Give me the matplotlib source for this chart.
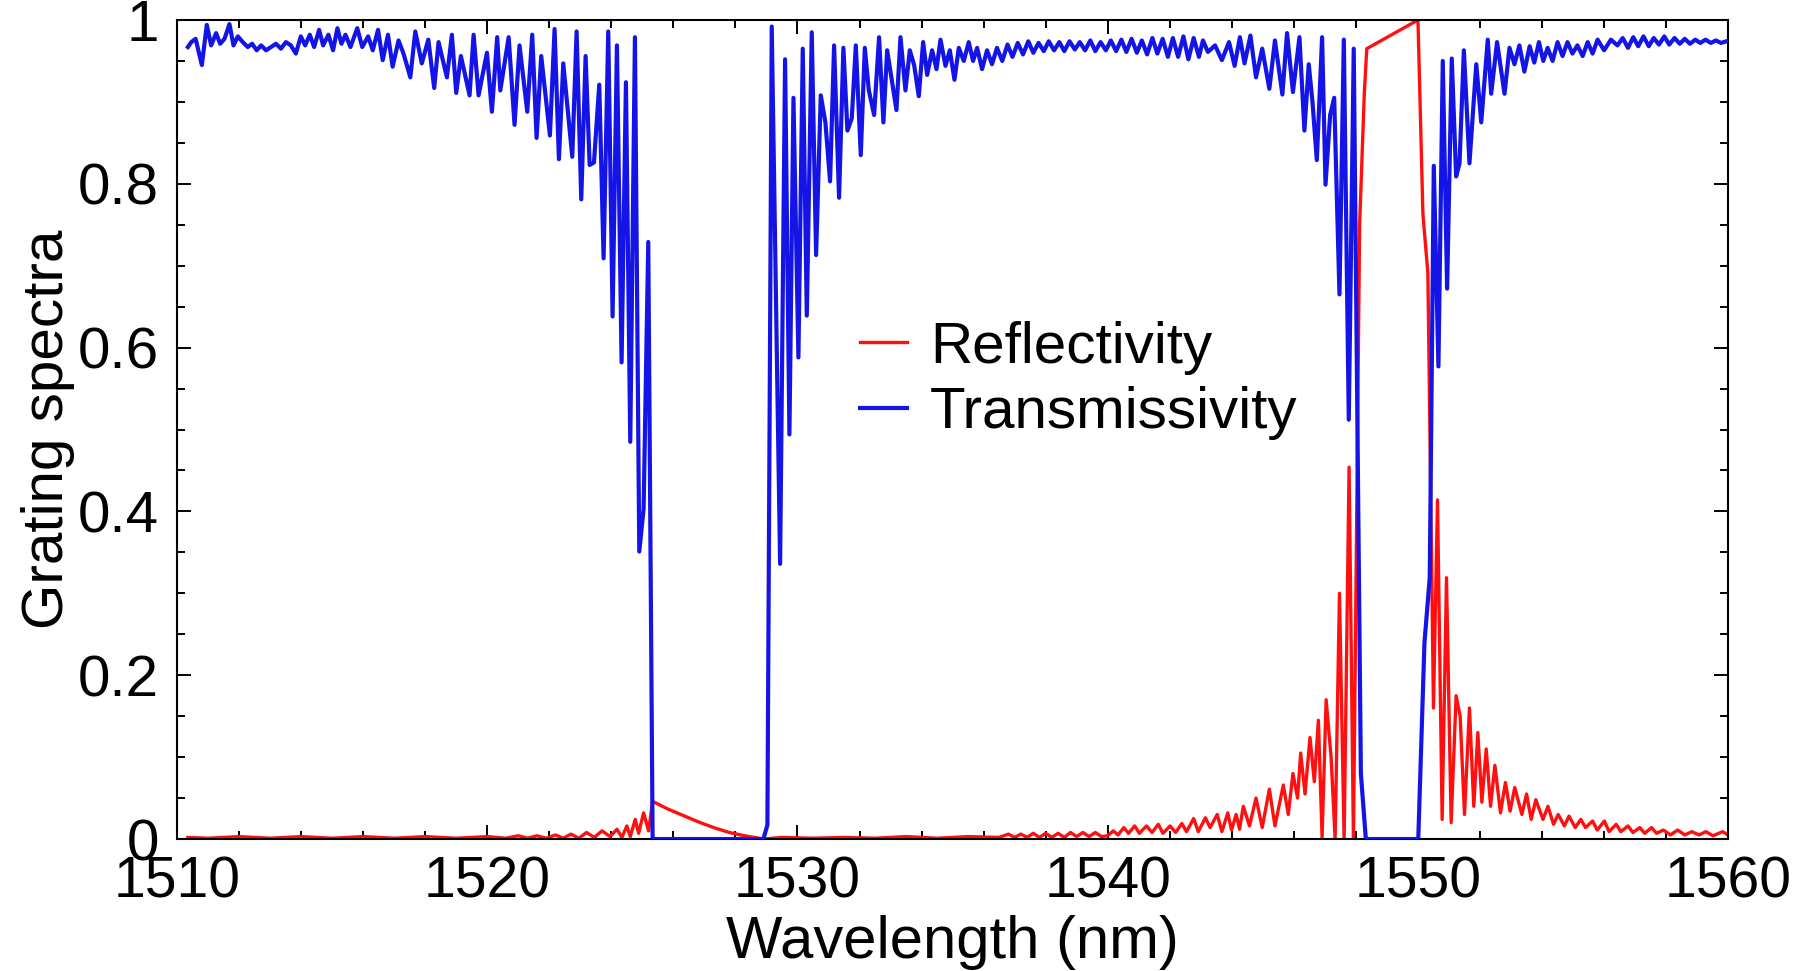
import matplotlib
matplotlib.use("Agg")
import matplotlib.pyplot as plt
from matplotlib.ticker import MultipleLocator, FuncFormatter

# ---------------- data ----------------
wl_T = [
    1510.35, 1510.46, 1510.60, 1510.80, 1510.96, 1511.10, 1511.26, 1511.39, 1511.53, 1511.69,
    1511.82, 1511.96, 1512.12, 1512.28, 1512.42, 1512.57, 1512.71, 1512.87, 1513.03, 1513.19,
    1513.35, 1513.51, 1513.67, 1513.83, 1513.99, 1514.13, 1514.28, 1514.42, 1514.58, 1514.71,
    1514.88, 1515.03, 1515.17, 1515.30, 1515.43, 1515.59, 1515.81, 1515.97, 1516.16, 1516.31,
    1516.48, 1516.63, 1516.80, 1516.95, 1517.14, 1517.30, 1517.52, 1517.68, 1517.89,
    1518.10, 1518.29, 1518.43, 1518.70, 1518.86, 1519.00, 1519.15, 1519.43, 1519.56, 1519.72,
    1519.99, 1520.15, 1520.32, 1520.42, 1520.69, 1520.88, 1521.04, 1521.29, 1521.45, 1521.59,
    1521.74, 1522.02, 1522.17, 1522.31, 1522.45, 1522.74, 1522.88, 1523.03, 1523.17, 1523.30,
    1523.44, 1523.61, 1523.75, 1523.90, 1524.04, 1524.18, 1524.33, 1524.47, 1524.61, 1524.76,
    1524.90, 1525.04, 1525.19, 1525.33,
    1528.90, 1529.03, 1529.17, 1529.44, 1529.60, 1529.74, 1529.87, 1530.03, 1530.17, 1530.30,
    1530.46, 1530.60, 1530.75, 1530.90, 1531.05, 1531.18, 1531.34, 1531.48, 1531.61, 1531.75,
    1531.88, 1532.04, 1532.17, 1532.30, 1532.47, 1532.63, 1532.77, 1532.89, 1533.19, 1533.32,
    1533.48, 1533.62, 1533.76, 1533.91, 1534.05, 1534.18, 1534.34, 1534.48, 1534.61, 1534.77,
    1534.91, 1535.06, 1535.20, 1535.36, 1535.52, 1535.66, 1535.79, 1535.95, 1536.11, 1536.27,
    1536.43, 1536.60, 1536.77, 1536.93, 1537.10, 1537.27,
    1537.44, 1537.60, 1537.77, 1537.94, 1538.10, 1538.27, 1538.44, 1538.60, 1538.77, 1538.94,
    1539.10, 1539.27, 1539.44, 1539.60, 1539.77, 1539.94, 1540.10, 1540.27, 1540.44, 1540.60,
    1540.77, 1540.94, 1541.10, 1541.27, 1541.44, 1541.60, 1541.77, 1541.94, 1542.10, 1542.27,
    1542.44, 1542.60, 1542.77, 1542.94,
    1543.07, 1543.23, 1543.46, 1543.68, 1543.91, 1544.09, 1544.26, 1544.41, 1544.60, 1544.78,
    1544.98, 1545.21, 1545.39, 1545.63, 1545.78, 1545.97, 1546.18, 1546.34, 1546.48, 1546.60,
    1546.74, 1546.91, 1547.02, 1547.17, 1547.30, 1547.47, 1547.61, 1547.77, 1547.93, 1548.16,
    1548.32, 1550.01, 1550.21, 1550.38, 1550.51, 1550.66, 1550.80, 1550.94, 1551.09, 1551.23,
    1551.34, 1551.48, 1551.66, 1551.88, 1552.04, 1552.25, 1552.36, 1552.55, 1552.79, 1552.95,
    1553.11, 1553.27, 1553.43, 1553.60, 1553.75, 1553.90, 1554.04, 1554.18, 1554.34, 1554.50,
    1554.66, 1554.82, 1554.98, 1555.14, 1555.31, 1555.47, 1555.63, 1555.79, 1556.00, 1556.22,
    1556.43, 1556.60, 1556.77, 1556.94, 1557.10, 1557.27, 1557.44, 1557.60, 1557.77, 1557.94,
    1558.10, 1558.27, 1558.44, 1558.60, 1558.77, 1558.94, 1559.10, 1559.27, 1559.44, 1559.60,
    1559.77, 1559.94,
]
T = [
    0.967, 0.973, 0.977, 0.945, 0.994, 0.969, 0.984, 0.971, 0.977, 0.995,
    0.969, 0.980, 0.973, 0.967, 0.971, 0.963, 0.969, 0.963, 0.967, 0.971,
    0.965, 0.973, 0.969, 0.959, 0.980, 0.969, 0.982, 0.967, 0.988, 0.969,
    0.982, 0.963, 0.990, 0.971, 0.982, 0.967, 0.990, 0.967, 0.980, 0.963,
    0.988, 0.951, 0.982, 0.943, 0.975, 0.959, 0.930, 0.986, 0.947,
    0.976, 0.917, 0.973, 0.930, 0.982, 0.911, 0.956, 0.908, 0.982, 0.908,
    0.960, 0.888, 0.979, 0.914, 0.979, 0.872, 0.969, 0.888, 0.982, 0.856,
    0.956, 0.859, 0.989, 0.830, 0.947, 0.833, 0.986, 0.781, 0.956, 0.823,
    0.826, 0.921, 0.709, 0.986, 0.638, 0.969, 0.582, 0.924, 0.485, 0.979,
    0.351, 0.403, 0.729, 0.000,
    0.000, 0.017, 0.992, 0.336, 0.952, 0.494, 0.905, 0.588, 0.965, 0.639,
    0.985, 0.713, 0.908, 0.875, 0.803, 0.969, 0.783, 0.966, 0.865, 0.880,
    0.969, 0.835, 0.966, 0.914, 0.884, 0.979, 0.875, 0.963, 0.890, 0.979,
    0.914, 0.963, 0.945, 0.907, 0.973, 0.933, 0.963, 0.940, 0.976, 0.944,
    0.963, 0.927, 0.966, 0.950, 0.973, 0.950, 0.966, 0.940, 0.963, 0.946,
    0.966, 0.950, 0.970, 0.955, 0.972, 0.958,
    0.974, 0.960, 0.972, 0.962, 0.974, 0.963, 0.973, 0.962, 0.974, 0.964,
    0.973, 0.963, 0.975, 0.962, 0.973, 0.963, 0.975, 0.962, 0.976, 0.961,
    0.977, 0.960, 0.975, 0.958, 0.978, 0.959, 0.977, 0.955, 0.978, 0.955,
    0.980, 0.952, 0.978, 0.955,
    0.975, 0.961, 0.969, 0.951, 0.973, 0.944, 0.979, 0.947, 0.981, 0.930,
    0.965, 0.916, 0.975, 0.909, 0.984, 0.912, 0.979, 0.865, 0.946, 0.900,
    0.829, 0.979, 0.799, 0.884, 0.905, 0.665, 0.976, 0.512, 0.965, 0.080,
    0.000, 0.000, 0.240, 0.319, 0.822, 0.577, 0.950, 0.672, 0.953, 0.809,
    0.825, 0.963, 0.825, 0.946, 0.875, 0.976, 0.910, 0.973, 0.910, 0.966,
    0.946, 0.969, 0.937, 0.968, 0.948, 0.973, 0.950, 0.966, 0.950, 0.973,
    0.956, 0.973, 0.959, 0.969, 0.956, 0.973, 0.959, 0.976, 0.963, 0.976,
    0.969, 0.978, 0.966, 0.979, 0.968, 0.980, 0.968, 0.978, 0.970, 0.980,
    0.970, 0.978, 0.971, 0.977, 0.971, 0.976, 0.972, 0.976, 0.972, 0.975,
    0.972, 0.974,
]

wl_R = [
    1510.35, 1511.0, 1512.0, 1513.0, 1514.0, 1515.0, 1516.0, 1517.0, 1518.0, 1519.0,
    1520.0, 1520.6, 1521.0, 1521.3, 1521.6, 1521.9, 1522.2, 1522.45, 1522.7, 1522.95,
    1523.2, 1523.45, 1523.7, 1523.96, 1524.18, 1524.34, 1524.50, 1524.61, 1524.77, 1524.88,
    1525.04, 1525.20, 1525.33, 1525.80, 1526.30, 1526.80, 1527.30, 1527.80, 1528.30, 1528.90,
    1529.5, 1530.5, 1531.5, 1532.5, 1533.5, 1534.5, 1535.5, 1536.5, 1536.8, 1537.0,
    1537.2, 1537.4, 1537.6, 1537.8, 1538.0, 1538.2, 1538.4, 1538.6, 1538.8, 1539.0,
    1539.2, 1539.4, 1539.6, 1539.8, 1540.0, 1540.18, 1540.33, 1540.52, 1540.67, 1540.87,
    1541.02, 1541.25, 1541.43, 1541.63, 1541.78, 1542.01, 1542.19, 1542.39, 1542.54, 1542.77,
    1542.92, 1543.15, 1543.30, 1543.53, 1543.68, 1543.87, 1543.99, 1544.14, 1544.25, 1544.37,
    1544.57, 1544.78, 1544.98, 1545.21, 1545.39, 1545.66, 1545.82, 1545.97, 1546.12, 1546.22,
    1546.36, 1546.52, 1546.66, 1546.79, 1546.91, 1547.04, 1547.20, 1547.33, 1547.47, 1547.62,
    1547.78, 1547.92, 1548.12, 1548.27, 1548.35, 1550.00, 1550.16, 1550.32, 1550.50, 1550.63,
    1550.78, 1550.92, 1551.07, 1551.23, 1551.36, 1551.50, 1551.66, 1551.80, 1551.93, 1552.06,
    1552.20, 1552.34, 1552.48, 1552.66, 1552.82, 1552.97, 1553.12, 1553.35, 1553.50, 1553.65,
    1553.80, 1554.03, 1554.19, 1554.37, 1554.52, 1554.72, 1554.87, 1555.07, 1555.25, 1555.40,
    1555.63, 1555.78, 1556.01, 1556.16, 1556.39, 1556.54, 1556.77, 1556.93, 1557.15, 1557.31,
    1557.53, 1557.69, 1557.91, 1558.14, 1558.37, 1558.60, 1558.83, 1559.06, 1559.28, 1559.51,
    1559.82, 1559.95,
]
R = [
    0.002, 0.001, 0.003, 0.001, 0.003, 0.001, 0.003, 0.001, 0.003, 0.001,
    0.003, 0.001, 0.004, 0.001, 0.004, 0.001, 0.005, 0.001, 0.006, 0.001,
    0.008, 0.002, 0.010, 0.003, 0.012, 0.002, 0.016, 0.003, 0.024, 0.007,
    0.032, 0.010, 0.046, 0.037, 0.029, 0.021, 0.014, 0.008, 0.004, 0.000,
    0.002, 0.001, 0.002, 0.001, 0.003, 0.001, 0.003, 0.002, 0.006, 0.002,
    0.006, 0.002, 0.007, 0.002, 0.007, 0.002, 0.007, 0.002, 0.008, 0.003,
    0.008, 0.003, 0.008, 0.003, 0.004, 0.010, 0.005, 0.014, 0.007, 0.016,
    0.007, 0.016, 0.008, 0.018, 0.007, 0.016, 0.008, 0.019, 0.009, 0.025,
    0.009, 0.026, 0.014, 0.030, 0.009, 0.032, 0.011, 0.030, 0.012, 0.040,
    0.016, 0.050, 0.014, 0.061, 0.016, 0.066, 0.030, 0.080, 0.050, 0.105,
    0.055, 0.124, 0.070, 0.145, 0.002, 0.170, 0.100, 0.000, 0.300, 0.000,
    0.454, 0.000, 0.750, 0.910, 0.965, 1.000, 0.763, 0.691, 0.160, 0.414,
    0.024, 0.319, 0.020, 0.175, 0.150, 0.030, 0.160, 0.040, 0.130, 0.045,
    0.110, 0.040, 0.090, 0.032, 0.069, 0.034, 0.063, 0.030, 0.055, 0.024,
    0.048, 0.024, 0.040, 0.018, 0.030, 0.016, 0.028, 0.014, 0.024, 0.014,
    0.022, 0.011, 0.022, 0.009, 0.018, 0.009, 0.016, 0.008, 0.014, 0.007,
    0.014, 0.007, 0.011, 0.005, 0.011, 0.005, 0.009, 0.005, 0.009, 0.004,
    0.009, 0.006,
]

x_ticks = [1510, 1520, 1530, 1540, 1550, 1560]
y_ticks = [0, 0.2, 0.4, 0.6, 0.8, 1.0]

# ---------------- figure ----------------
plt.rcParams['font.family'] = ['Liberation Sans', 'DejaVu Sans']
fig = plt.figure(figsize=(18.10, 9.71), dpi=100)
ax = fig.add_axes([0.0978, 0.1359, 0.857, 0.8435])

ax.plot(wl_R, R, color='#ff1010', lw=2.4, label='Reflectivity', zorder=2)
ax.plot(wl_T, T, color='#1414e6', lw=3.0, label='Transmissivity', zorder=3)

ax.set_xlim(1510, 1560)
ax.set_ylim(0, 1)
ax.set_xticks(x_ticks)
ax.set_yticks(y_ticks)
ax.xaxis.set_minor_locator(MultipleLocator(2))
ax.yaxis.set_minor_locator(MultipleLocator(0.05))
ax.yaxis.set_major_formatter(FuncFormatter(lambda v, p: ('%g' % v)))

ax.tick_params(which='both', direction='in', top=True, right=True, width=1.4)
ax.tick_params(which='major', length=10)
ax.tick_params(axis='x', which='major', pad=12, labelsize=41)
ax.tick_params(axis='y', which='major', pad=13, labelsize=42)
ax.tick_params(which='minor', length=6)
for s in ax.spines.values():
    s.set_linewidth(1.5)

ax.set_xlabel('Wavelength (nm)', fontsize=43, labelpad=4)
ax.set_ylabel('Grating spectra', fontsize=42, labelpad=2)

ax.legend(loc='center left', bbox_to_anchor=(0.4404, 0.56), frameon=False,
          fontsize=42, handlelength=0.8, handletextpad=0.4, labelspacing=0.2,
          borderpad=0, borderaxespad=0)

fig.savefig('out.png', dpi=100)
